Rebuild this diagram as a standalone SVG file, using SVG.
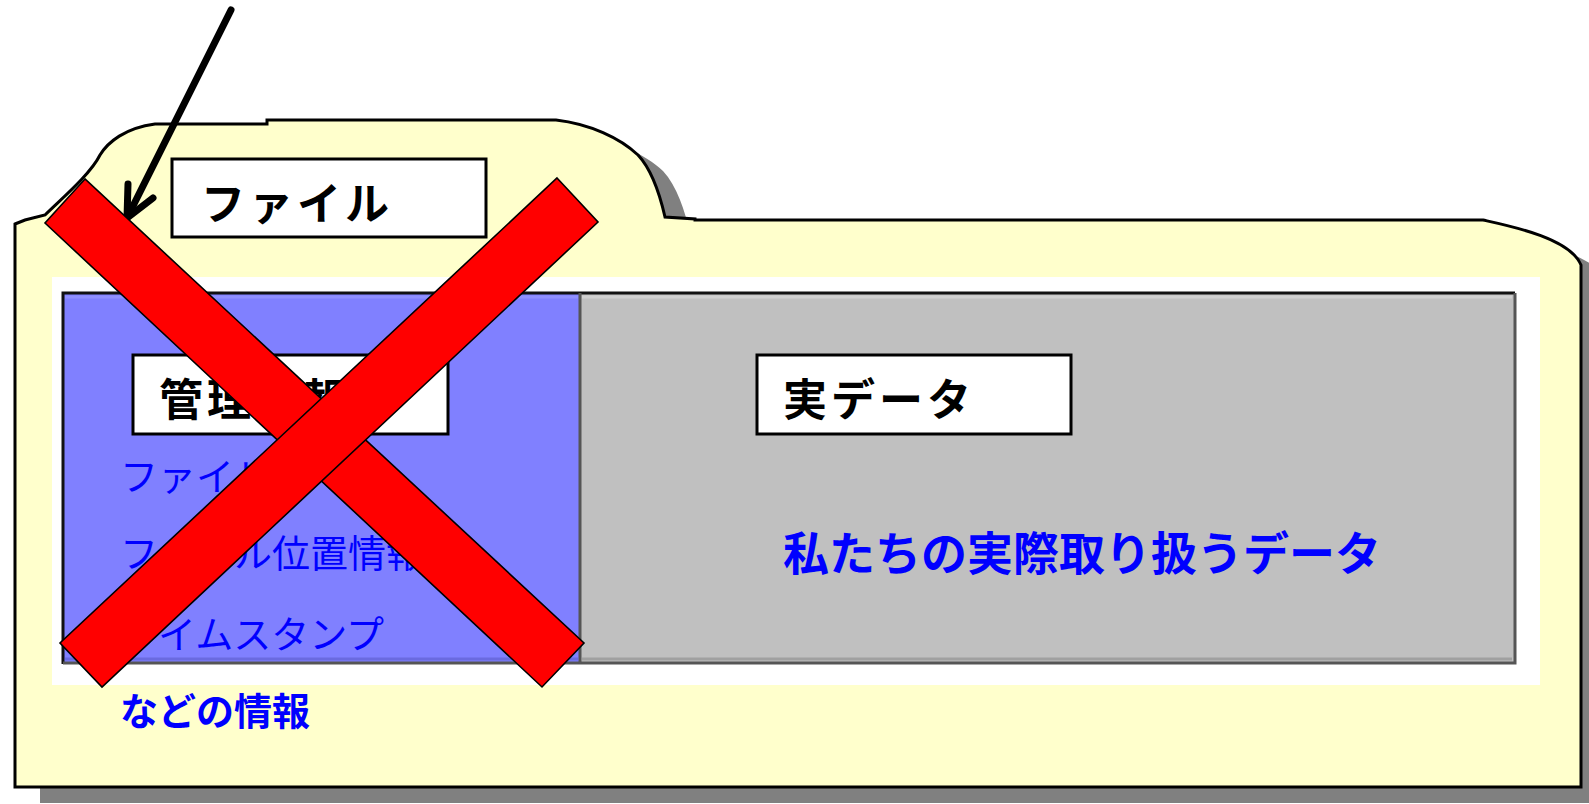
<svg xmlns="http://www.w3.org/2000/svg" width="1589" height="804" viewBox="0 0 1589 804">
  <defs>
    <style>
      .folder { stroke: #000; stroke-width: 3; stroke-linejoin: miter; }
      .label { fill: #fff; stroke: #000; stroke-width: 3; }
      .ltext { font-family: "Noto Sans CJK JP", "Noto Sans CJK SC", sans-serif; font-size: 44px; font-weight: 700; fill: #000; letter-spacing: 4px; }
      .btext { font-family: "Noto Sans CJK JP", "Noto Sans CJK SC", sans-serif; font-size: 38px; fill: #0000ff; }
      .cross { fill: #ff0000; stroke: #000; stroke-width: 1.6; stroke-linejoin: miter; }
      .arrow { fill: none; stroke: #000; stroke-width: 7; stroke-linecap: round; stroke-linejoin: round; }
    </style>
    <path id="folderShape" d="M15,224 L25,220 L45,215 C60,200 90,175 100,155 C108,142 125,128 155,124 L267,124 L267,120 L556,120 C590,124 620,138 638,155 C652,170 660,195 665,217 L695,219 L695,220 L1483,220 C1510,226 1570,238 1581,265 L1581,787 L15,787 Z"/>
  </defs>

  <rect x="0" y="0" width="1589" height="804" fill="#ffffff"/>

  <g id="folder">
    <use href="#folderShape" transform="translate(25,16)" fill="#808080"/>
    <use href="#folderShape" class="folder" fill="#ffffcc"/>
    <rect x="52" y="277" width="1488" height="408" fill="#ffffff"/>
  </g>

  <g id="management-panel">
    <rect x="63" y="293" width="517" height="371" fill="#8080ff"/>
    <line x1="65" y1="297" x2="578" y2="297" stroke="#9090ff" stroke-width="3"/>
    <line x1="65" y1="659" x2="578" y2="659" stroke="#6a6ae0" stroke-width="3"/>
    <text class="btext" x="120" y="490">ファイル名</text>
    <text class="btext" x="120" y="567">ファイル位置情報</text>
    <text class="btext" x="120" y="648">タイムスタンプ</text>
  </g>

  <g id="data-panel">
    <rect x="580" y="293" width="935" height="371" fill="#c0c0c0"/>
    <line x1="582" y1="297" x2="1512" y2="297" stroke="#d0d0d0" stroke-width="3"/>
    <line x1="582" y1="659" x2="1512" y2="659" stroke="#a0a0a0" stroke-width="3"/>
    <text class="btext" x="783" y="570" font-weight="700" style="font-size:46px">私たちの実際取り扱うデータ</text>
  </g>

  <g id="panel-frame">
    <path d="M63,664 L63,293 L1515,293" fill="none" stroke="#111" stroke-width="3"/>
    <path d="M63,663 L1515,663 L1515,293" fill="none" stroke="#555" stroke-width="3"/>
    <line x1="580" y1="293" x2="580" y2="664" stroke="#555" stroke-width="3"/>
  </g>

  <g id="note">
    <text class="btext" x="120" y="725" font-weight="700">などの情報</text>
  </g>

  <g id="label-file">
    <rect class="label" x="172" y="159" width="314" height="78"/>
    <text class="ltext" x="201" y="220">ファイル</text>
  </g>

  <g id="label-management">
    <rect class="label" x="133" y="355" width="315" height="79"/>
    <text class="ltext" x="159" y="416">管理情報</text>
  </g>

  <g id="label-data">
    <rect class="label" x="757" y="355" width="314" height="79"/>
    <text class="ltext" x="783" y="416">実データ</text>
  </g>

  <g id="connectors">
    <path class="arrow" d="M231,10 L127,218"/>
    <path class="arrow" d="M128,184 L127,218 L153,198"/>
  </g>

  <g id="cross">
    <polygon class="cross" points="85,179 45,223 542,687 584,643"/>
    <polygon class="cross" points="557,178 598,222 102,687 60,643"/>
  </g>
</svg>
